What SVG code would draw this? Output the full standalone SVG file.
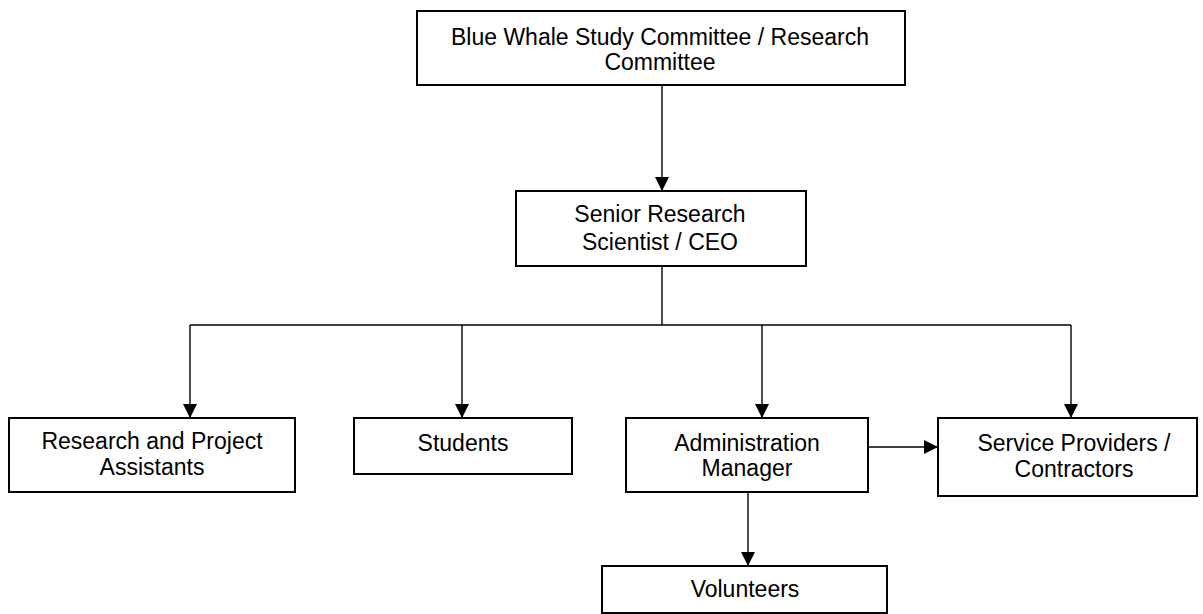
<svg xmlns="http://www.w3.org/2000/svg" width="1203" height="614" viewBox="0 0 1203 614">
<style>
.box{fill:#fff;stroke:#000;stroke-width:2}
.lbl{font-family:"Liberation Sans",Arial,sans-serif;font-size:23px;fill:#000;text-anchor:middle}
.con{fill:none;stroke:#000;stroke-width:1.4}
</style>
<defs>
<marker id="arr" markerUnits="userSpaceOnUse" markerWidth="15" markerHeight="15" refX="14" refY="7" orient="auto">
<path d="M0,0 L14,7 L0,14 z" fill="#000"/>
</marker>
</defs>
<rect width="1203" height="614" fill="#fff"/>
<g id="connectors">
<path class="con" d="M662,85 V191" marker-end="url(#arr)"/>
<path class="con" d="M662,266 V325 M190,325 H1071"/>
<path class="con" d="M190,325 V418" marker-end="url(#arr)"/>
<path class="con" d="M462,325 V418" marker-end="url(#arr)"/>
<path class="con" d="M762,325 V418" marker-end="url(#arr)"/>
<path class="con" d="M1071,325 V418" marker-end="url(#arr)"/>
<path class="con" d="M868,447 H938" marker-end="url(#arr)"/>
<path class="con" d="M748,492 V566" marker-end="url(#arr)"/>
</g>
<g id="committee">
<rect class="box" x="417" y="11" width="488" height="74"/>
<text class="lbl" x="660" y="45">Blue Whale Study Committee / Research</text>
<text class="lbl" x="660" y="70">Committee</text>
</g>
<g id="ceo">
<rect class="box" x="516" y="191" width="290" height="75"/>
<text class="lbl" x="660" y="222">Senior Research</text>
<text class="lbl" x="660" y="250">Scientist / CEO</text>
</g>
<g id="assistants">
<rect class="box" x="9" y="418" width="286" height="74"/>
<text class="lbl" x="152" y="449">Research and Project</text>
<text class="lbl" x="152" y="475">Assistants</text>
</g>
<g id="students">
<rect class="box" x="354" y="418" width="218" height="56"/>
<text class="lbl" x="463" y="451">Students</text>
</g>
<g id="admin">
<rect class="box" x="626" y="418" width="242" height="74"/>
<text class="lbl" x="747" y="451">Administration</text>
<text class="lbl" x="747" y="476">Manager</text>
</g>
<g id="service">
<rect class="box" x="938" y="418" width="259" height="78"/>
<text class="lbl" x="1074" y="451">Service Providers /</text>
<text class="lbl" x="1074" y="477">Contractors</text>
</g>
<g id="volunteers">
<rect class="box" x="602" y="566" width="285" height="47"/>
<text class="lbl" x="745" y="597">Volunteers</text>
</g>
</svg>
